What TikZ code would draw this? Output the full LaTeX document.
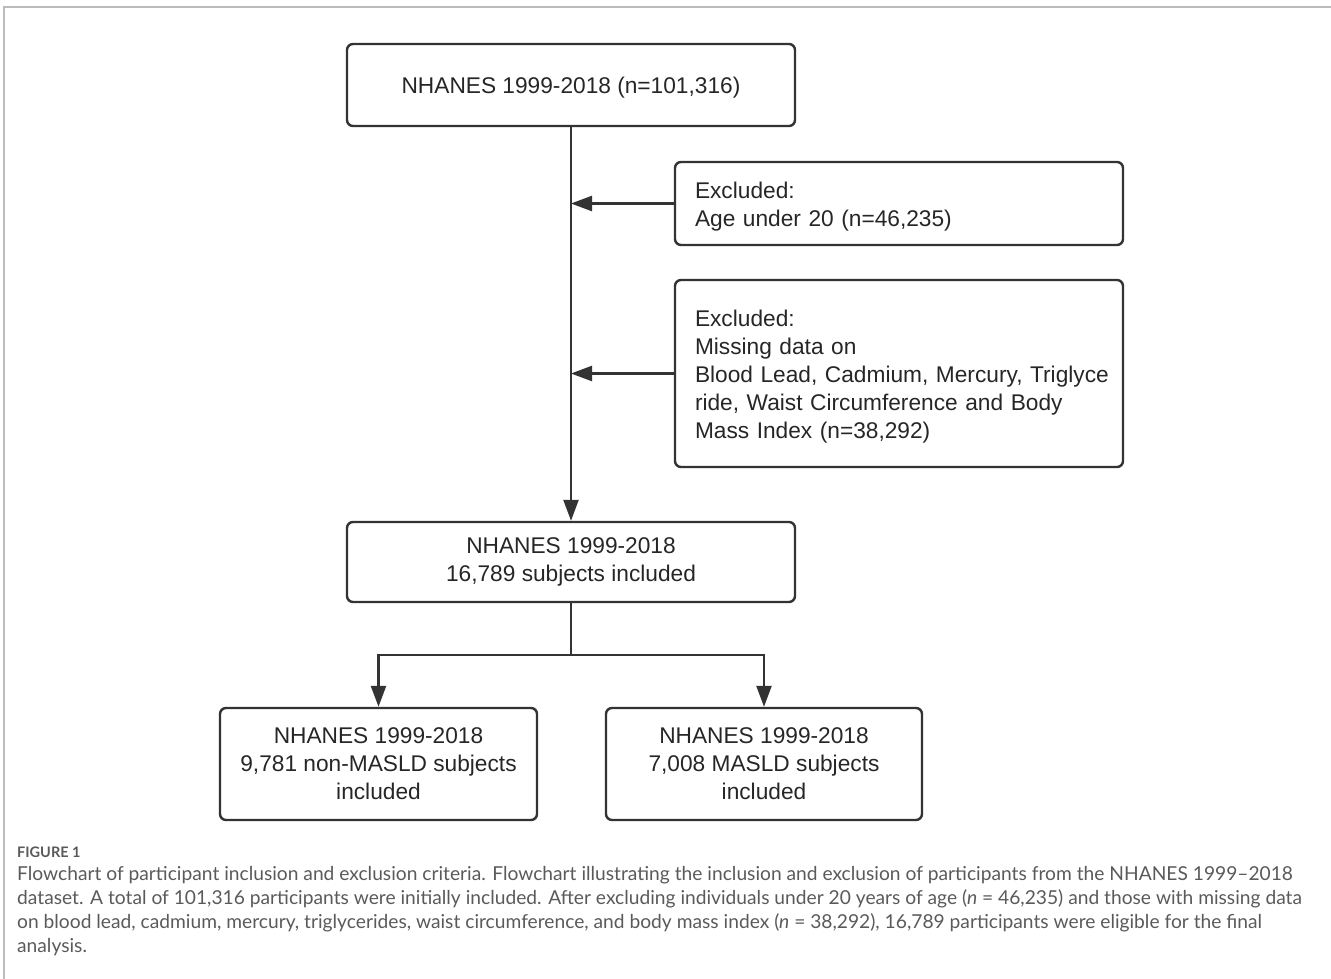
\documentclass[tikz,border=0pt]{standalone}
\usepackage{fontspec}
\setmainfont{Liberation Sans}
\newfontfamily\capfont[Ligatures=TeX]{Lato}
\usetikzlibrary{arrows.meta}
\definecolor{boxline}{HTML}{333333}
\definecolor{capgray}{HTML}{5A5A5A}
\definecolor{framegray}{HTML}{BBBBBB}
\newcommand{\toplift}{\rule{0pt}{22.5pt}}
\tikzset{
  fbox/.style={draw=boxline, line width=2.4pt, rounded corners=6pt, align=center,
    font=\fontsize{22.7}{28}\selectfont, text=black!85, inner sep=0pt},
  exbox/.style={fbox, align=left, text width=408pt, inner xsep=20pt},
  conn/.style={draw=boxline, line width=2.4pt},
  arr/.style={conn, -{Triangle[length=21pt,width=15pt]}},
  capline/.style={anchor=base west, inner sep=0pt, text=capgray, font=\capfont\fontsize{19.2}{24}\selectfont}
}
\begin{document}
\begin{tikzpicture}[x=1pt,y=-1pt]
\useasboundingbox (0,0) rectangle (1331,979);
\draw[framegray, line width=1.8pt] (4,979) -- (4,7) -- (1331,7);

\node[fbox, minimum width=448pt, minimum height=82pt] (top) at (571,85) {\toplift NHANES 1999-2018 (n=101,316)};
\node[exbox, minimum height=83pt] (ex1) at (899,203.5) {\toplift Excluded:\\Age under 20 (n=46,235)};
\node[exbox, minimum height=187pt] (ex2) at (899,373.5) {\toplift Excluded:\\Missing data on\\\mbox{Blood Lead, Cadmium, Mercury, Triglyce}\\ride, Waist Circumference and Body\\Mass Index (n=38,292)};
\node[fbox, minimum width=448pt, minimum height=80pt] (inc) at (571,562) {NHANES 1999-2018\\16,789 subjects included};
\node[fbox, minimum width=317pt, minimum height=112pt] (left) at (378.5,764) {NHANES 1999-2018\\9,781 non-MASLD subjects\\included};
\node[fbox, minimum width=316pt, minimum height=112pt] (right) at (764,764) {NHANES 1999-2018\\7,008 MASLD subjects\\included};

\draw[arr] (top.south) -- (inc.north);
\draw[arr] (ex1.west) -- (ex1.west -| top.south);
\draw[arr] (ex2.west) -- (ex2.west -| top.south);
\coordinate (split) at (571,655);
\draw[conn] (inc.south) -- (split);
\draw[arr] (split) -| (left.north);
\draw[arr] (split) -| (right.north);

\node[anchor=base west, inner sep=0pt, text=capgray, font=\capfont\bfseries\fontsize{14.5}{16}\selectfont] (fig) at (17,857) {FIGURE 1};
\node[capline] (c1) at (17,880) {Flowchart of participant inclusion and exclusion criteria. Flowchart illustrating the inclusion and exclusion of participants from the NHANES 1999–2018};
\node[capline] (c2) at (17,904) {dataset. A total of 101,316 participants were initially included. After excluding individuals under 20 years of age (\textit{n} = 46,235) and those with missing data};
\node[capline] (c3) at (17,928) {on blood lead, cadmium, mercury, triglycerides, waist circumference, and body mass index (\textit{n} = 38,292), 16,789 participants were eligible for the final};
\node[capline] (c4) at (17,952) {analysis.};
\end{tikzpicture}
\end{document}
